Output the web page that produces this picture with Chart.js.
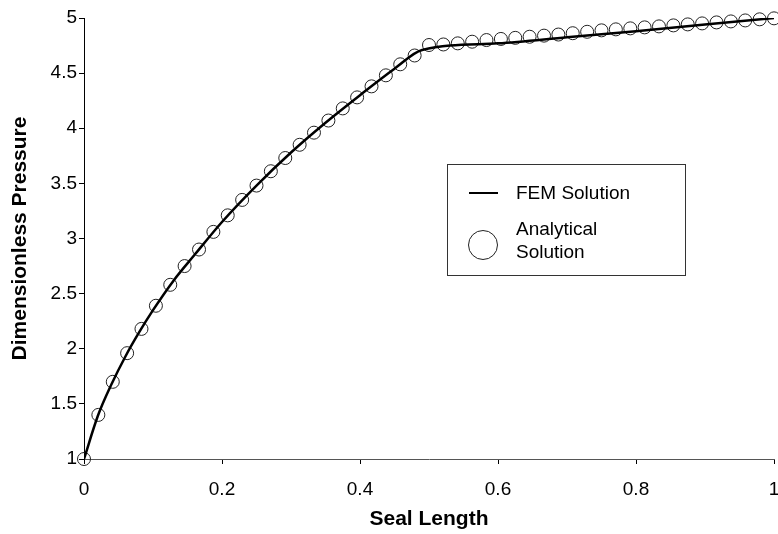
<!DOCTYPE html>
<html>
<head>
<meta charset="utf-8">
<script src="https://cdn.jsdelivr.net/npm/chart.js@4.4.1/dist/chart.umd.min.js"></script>
<style>
  html, body { margin: 0; padding: 0; background: #fff; }
  #wrap { width: 778px; height: 534px; }
</style>
</head>
<body>
<div id="wrap"><canvas id="chart"></canvas></div>
<script>
const xTicks = [0, 0.2, 0.4, 0.6, 0.8, 1];
const yTicks = [1, 1.5, 2, 2.5, 3, 3.5, 4, 4.5, 5];

// analytical solution
const analyticalX = [0, 0.0208, 0.0417, 0.0625, 0.0833, 0.1042, 0.125, 0.1458, 0.1667, 0.1875,
  0.2083, 0.2292, 0.25, 0.2708, 0.2917, 0.3125, 0.3333, 0.3542, 0.375, 0.3958,
  0.4167, 0.4375, 0.4583, 0.4792, 0.5, 0.5208, 0.5417, 0.5625, 0.5833, 0.6042,
  0.625, 0.6458, 0.6667, 0.6875, 0.7083, 0.7292, 0.75, 0.7708, 0.7917, 0.8125,
  0.8333, 0.8542, 0.875, 0.8958, 0.9167, 0.9375, 0.9583, 0.9792, 1];
const analyticalY = [1.00, 1.40, 1.70, 1.96, 2.18, 2.39, 2.58, 2.75, 2.90, 3.06,
  3.21, 3.35, 3.48, 3.61, 3.73, 3.85, 3.96, 4.07, 4.18, 4.28,
  4.38, 4.48, 4.58, 4.66, 4.755, 4.76, 4.77, 4.785, 4.80, 4.81,
  4.82, 4.83, 4.84, 4.85, 4.862, 4.875, 4.888, 4.897, 4.906, 4.915,
  4.924, 4.933, 4.942, 4.951, 4.96, 4.969, 4.978, 4.988, 4.997];

// FEM solution
const femX = [0, 0.02, 0.04, 0.06, 0.08, 0.1, 0.13, 0.16, 0.2, 0.25, 0.3, 0.35, 0.4, 0.45, 0.49, 0.6, 0.7, 0.8, 0.9, 1];
const femY = [1, 1.39, 1.68, 1.93, 2.15, 2.35, 2.62, 2.85, 3.15, 3.48, 3.78, 4.05, 4.30, 4.54, 4.71, 4.77, 4.825, 4.88, 4.94, 5.0];

const pts = (xs, ys) => xs.map((x, i) => ({ x: x, y: ys[i] }));
const fam = '"Liberation Sans", Arial, sans-serif';

const legendBox = {
  id: 'legendBox',
  afterDatasetsDraw(chart) {
    const ctx = chart.ctx;
    ctx.save();
    ctx.fillStyle = '#fff';
    ctx.fillRect(447, 164, 238, 111);
    ctx.strokeStyle = '#333';
    ctx.lineWidth = 1;
    ctx.strokeRect(447.5, 164.5, 238, 111);

    ctx.strokeStyle = '#000';
    ctx.lineWidth = 2;
    ctx.beginPath();
    ctx.moveTo(469, 193);
    ctx.lineTo(498, 193);
    ctx.stroke();

    ctx.lineWidth = 1;
    ctx.strokeStyle = '#222';
    ctx.beginPath();
    ctx.arc(483, 245, 14.5, 0, Math.PI * 2);
    ctx.stroke();

    ctx.fillStyle = '#000';
    ctx.font = '19px ' + fam;
    ctx.textBaseline = 'middle';
    ctx.fillText(chart.data.datasets[0].label, 516, 194);
    const lines = chart.data.datasets[1].label.split(' ');
    ctx.fillText(lines[0], 516, 230);
    ctx.fillText(lines[1], 516, 253);
    ctx.restore();
  }
};

new Chart(document.getElementById('chart'), {
  type: 'scatter',
  data: {
    datasets: [{
      label: 'FEM Solution',
      data: pts(femX, femY),
      showLine: true,
      borderColor: '#000',
      borderWidth: 2.5,
      pointRadius: 0,
      cubicInterpolationMode: 'monotone'
    }, {
      label: 'Analytical Solution',
      data: pts(analyticalX, analyticalY),
      showLine: false,
      pointRadius: 6.5,
      pointBorderWidth: 1,
      pointBorderColor: '#222',
      pointBackgroundColor: 'rgba(0,0,0,0)',
      clip: false
    }]
  },
  options: {
    responsive: true,
    maintainAspectRatio: false,
    animation: false,
    layout: { autoPadding: false, padding: { top: 18, right: 4, left: 0, bottom: 0 } },
    plugins: {
      legend: { display: false },
      tooltip: { enabled: false }
    },
    scales: {
      x: {
        type: 'linear',
        min: 0,
        max: 1,
        afterBuildTicks: s => { s.ticks = xTicks.map(v => ({ value: v })); },
        afterFit: s => { s.height = 75; s.paddingLeft = 0; s.paddingRight = 0; },
        ticks: {
          color: '#000',
          padding: 14,
          callback: v => String(v),
          font: { size: 19, family: fam }
        },
        grid: { drawOnChartArea: false, tickLength: 5, color: '#000' },
        border: { color: '#555' },
        title: {
          display: true,
          text: 'Seal Length',
          color: '#000',
          padding: { top: 4, bottom: 2 },
          font: { size: 21, weight: 'bold', family: fam }
        }
      },
      y: {
        type: 'linear',
        min: 1,
        max: 5,
        afterBuildTicks: s => { s.ticks = yTicks.map(v => ({ value: v })); },
        afterFit: s => { s.width = 84; s.paddingTop = 0; s.paddingBottom = 0; },
        ticks: {
          color: '#000',
          padding: 2,
          callback: v => String(v),
          font: { size: 19, family: fam }
        },
        grid: { drawOnChartArea: false, tickLength: 5, color: '#000' },
        border: { color: '#000' },
        title: {
          display: true,
          text: 'Dimensionless Pressure',
          color: '#000',
          padding: { top: 8, bottom: 4 },
          font: { size: 21, weight: 'bold', family: fam }
        }
      }
    }
  },
  plugins: [legendBox]
});
</script>
</body>
</html>
